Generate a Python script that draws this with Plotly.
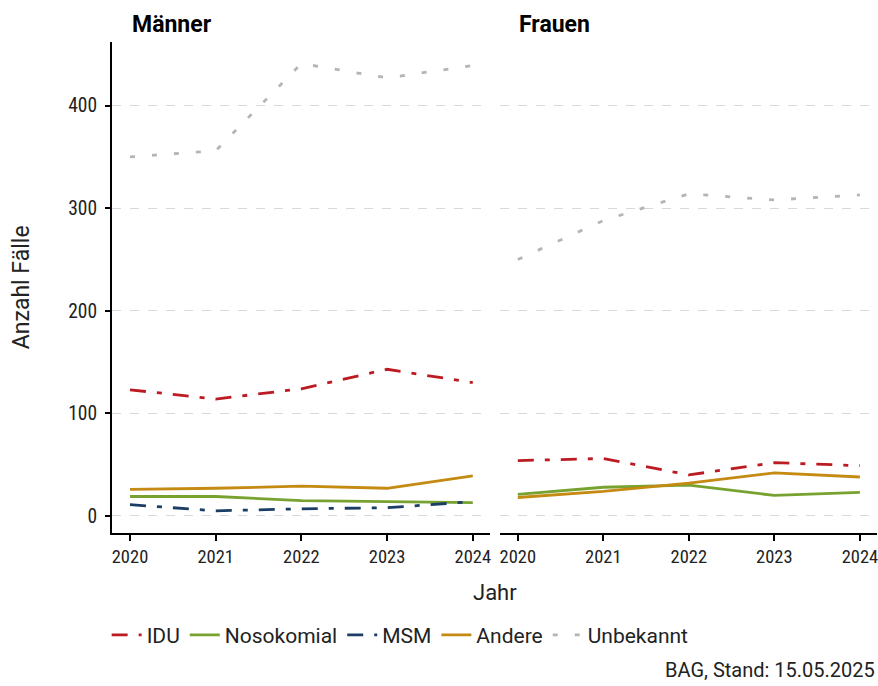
import plotly.graph_objects as go
from plotly.subplots import make_subplots

years = [2020, 2021, 2022, 2023, 2024]

# Männer
m_idu = [123, 114, 124, 143, 130]
m_noso = [19, 19, 15, 14, 13]
m_msm = [11, 5, 7, 8, 14]
m_andere = [26, 27, 29, 27, 39]
m_unbek = [350, 356, 441, 427, 439]

# Frauen
f_idu = [54, 56, 40, 52, 49]
f_noso = [21, 28, 30, 20, 23]
f_andere = [18, 24, 32, 42, 38]
f_unbek = [250, 288, 314, 308, 313]

FONT = "Roboto, sans-serif"
NUMFONT = "Roboto Condensed, Roboto, sans-serif"
TXT = "#222"

styles = {
    "IDU": dict(color="#BC1B22", dash="16px,11px,5px,11px"),
    "Nosokomial": dict(color="#77A22F", dash="solid"),
    "MSM": dict(color="#1B3E66", dash="16px,11px,5px,11px"),
    "Andere": dict(color="#C48A12", dash="solid"),
    "Unbekannt": dict(color="#B5B5B5", dash="5px,17px"),
}

panels = [
    (1, {"IDU": m_idu, "Nosokomial": m_noso, "MSM": m_msm, "Andere": m_andere, "Unbekannt": m_unbek}),
    (2, {"IDU": f_idu, "Nosokomial": f_noso, "Andere": f_andere, "Unbekannt": f_unbek}),
]

fig = make_subplots(rows=1, cols=2, shared_yaxes=True, horizontal_spacing=0.013)

shown = set()
for col, series in panels:
    for name, vals in series.items():
        st = styles[name]
        fig.add_trace(
            go.Scatter(
                x=years, y=vals, mode="lines", name=name,
                line=dict(color=st["color"], dash=st["dash"], width=2.8),
                legendgroup=name, showlegend=name not in shown,
                legendrank=list(styles).index(name),
            ),
            row=1, col=col,
        )
        shown.add(name)

fig.update_xaxes(
    range=[2019.79, 2024.2], tickvals=years, ticktext=[str(y) for y in years],
    showline=True, linecolor="black", linewidth=2, ticks="outside", ticklen=6,
    tickwidth=2, tickcolor="black", showgrid=False, zeroline=False,
    tickfont=dict(size=18.5, color=TXT, family=NUMFONT), automargin=False,
    ticklabeloverflow="allow",
)
fig.update_layout(
    xaxis=dict(domain=[0, 0.494]),
    xaxis2=dict(domain=[0.507, 1]),
)
fig.update_yaxes(
    range=[-16.6, 462], tickvals=[0, 100, 200, 300, 400], showgrid=True,
    gridcolor="#d9d9d9", griddash="dash", gridwidth=1, zeroline=False,
    automargin=False,
)
fig.update_layout(
    yaxis=dict(showline=True, linecolor="black", linewidth=2, ticks="outside",
               ticklen=5, tickwidth=2, tickcolor="black", ticklabelstandoff=4,
               tickfont=dict(size=19.5, color=TXT, family=NUMFONT)),
    yaxis2=dict(showline=False, ticks="", showticklabels=False),
)

fig.add_annotation(text="Anzahl Fälle", x=-0.118, y=0.5, xref="paper", yref="paper",
                   textangle=-90, xanchor="center", yanchor="middle", showarrow=False,
                   font=dict(size=23, color=TXT, family=FONT))
fig.add_annotation(text="<b>Männer</b>", x=0.024, y=1.0, xref="paper", yref="paper",
                   xanchor="left", yanchor="bottom", yshift=2, showarrow=False,
                   font=dict(size=23, color="black", family=FONT))
fig.add_annotation(text="<b>Frauen</b>", x=0.529, y=1.0, xref="paper", yref="paper",
                   xanchor="left", yanchor="bottom", yshift=2, showarrow=False,
                   font=dict(size=23, color="black", family=FONT))
fig.add_annotation(text="Jahr", x=0.5, y=-0.122, xref="paper", yref="paper",
                   xanchor="center", yanchor="middle", showarrow=False,
                   font=dict(size=22, color=TXT, family=FONT))
fig.add_annotation(text="BAG, Stand: 15.05.2025", x=1.0, y=-0.279, xref="paper", yref="paper",
                   xanchor="right", yanchor="middle", showarrow=False,
                   font=dict(size=20, color=TXT, family=FONT))

fig.update_layout(
    width=878, height=686,
    margin=dict(l=112, r=1, t=42, b=153, autoexpand=False),
    plot_bgcolor="white", paper_bgcolor="white",
    font=dict(family=FONT, size=20, color=TXT),
    legend=dict(orientation="h", x=-0.007, y=-0.208, xanchor="left", yanchor="middle",
                font=dict(size=21, color=TXT), itemwidth=30, tracegroupgap=0,
                traceorder="normal"),
)

fig.write_html("out.html", config={"displayModeBar": False},
               post_script="document.body.style.margin='0';")
